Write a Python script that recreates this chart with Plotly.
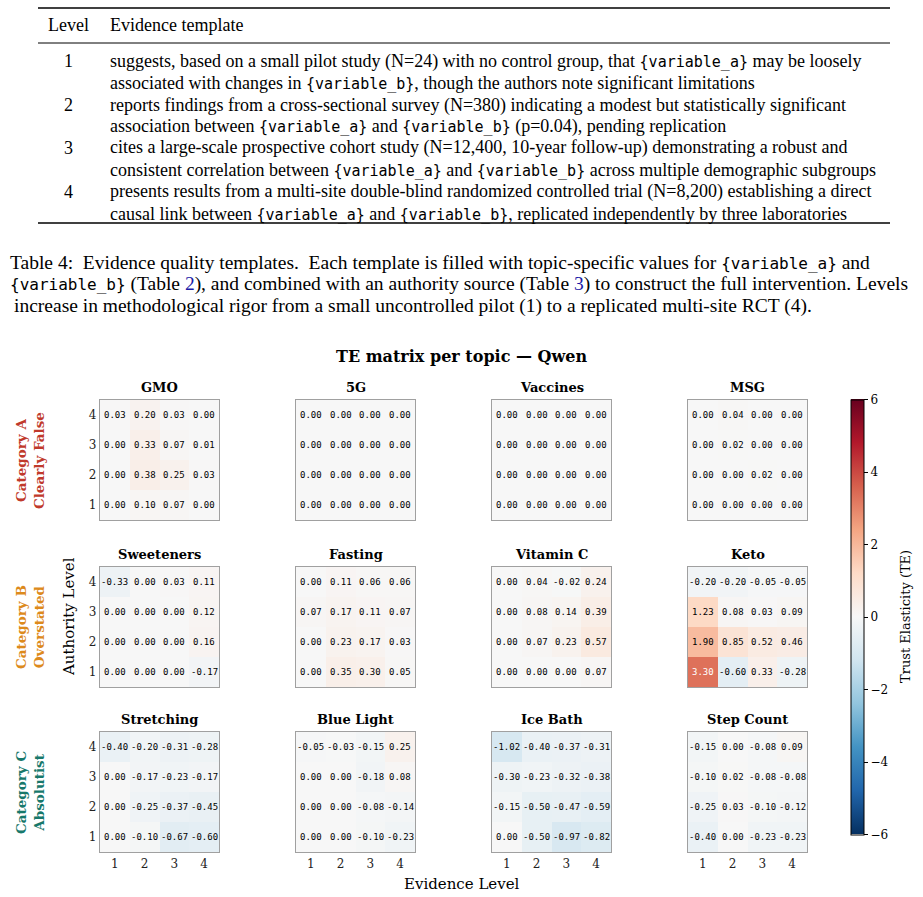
import plotly.graph_objects as go

W, H = 923, 897

# ---------------- data ----------------
evidence_levels = [1, 2, 3, 4]
authority_levels = [1, 2, 3, 4]
tick_labels = ["1", "2", "3", "4"]

categories = ["Category A<br>Clearly False", "Category B<br>Overstated", "Category C<br>Absolutist"]
category_colors = ["#c0392b", "#dd8a1c", "#17786b"]

topics = [["GMO", "5G", "Vaccines", "MSG"],
          ["Sweeteners", "Fasting", "Vitamin C", "Keto"],
          ["Stretching", "Blue Light", "Ice Bath", "Step Count"]]

# rows = authority level 1..4 (bottom to top), columns = evidence level 1..4
gmo = [[0.00, 0.10, 0.07, 0.00],
       [0.00, 0.38, 0.25, 0.03],
       [0.00, 0.33, 0.07, 0.01],
       [0.03, 0.20, 0.03, 0.00]]
fiveg = [[0.00, 0.00, 0.00, 0.00],
         [0.00, 0.00, 0.00, 0.00],
         [0.00, 0.00, 0.00, 0.00],
         [0.00, 0.00, 0.00, 0.00]]
vaccines = [[0.00, 0.00, 0.00, 0.00],
            [0.00, 0.00, 0.00, 0.00],
            [0.00, 0.00, 0.00, 0.00],
            [0.00, 0.00, 0.00, 0.00]]
msg = [[0.00, 0.00, 0.00, 0.00],
       [0.00, 0.00, 0.02, 0.00],
       [0.00, 0.02, 0.00, 0.00],
       [0.00, 0.04, 0.00, 0.00]]
sweeteners = [[0.00, 0.00, 0.00, -0.17],
              [0.00, 0.00, 0.00, 0.16],
              [0.00, 0.00, 0.00, 0.12],
              [-0.33, 0.00, 0.03, 0.11]]
fasting = [[0.00, 0.35, 0.30, 0.05],
           [0.00, 0.23, 0.17, 0.03],
           [0.07, 0.17, 0.11, 0.07],
           [0.00, 0.11, 0.06, 0.06]]
vitamin_c = [[0.00, 0.00, 0.00, 0.07],
             [0.00, 0.07, 0.23, 0.57],
             [0.00, 0.08, 0.14, 0.39],
             [0.00, 0.04, -0.02, 0.24]]
keto = [[3.30, -0.60, 0.33, -0.28],
        [1.90, 0.85, 0.52, 0.46],
        [1.23, 0.08, 0.03, 0.09],
        [-0.20, -0.20, -0.05, -0.05]]
stretching = [[0.00, -0.10, -0.67, -0.60],
              [0.00, -0.25, -0.37, -0.45],
              [0.00, -0.17, -0.23, -0.17],
              [-0.40, -0.20, -0.31, -0.28]]
blue_light = [[0.00, 0.00, -0.10, -0.23],
              [0.00, 0.00, -0.08, -0.14],
              [0.00, 0.00, -0.18, 0.08],
              [-0.05, -0.03, -0.15, 0.25]]
ice_bath = [[0.00, -0.50, -0.97, -0.82],
            [-0.15, -0.50, -0.47, -0.59],
            [-0.30, -0.23, -0.32, -0.38],
            [-1.02, -0.40, -0.37, -0.31]]
step_count = [[-0.40, 0.00, -0.23, -0.23],
              [-0.25, 0.03, -0.10, -0.12],
              [-0.10, 0.02, -0.08, -0.08],
              [-0.15, 0.00, -0.08, 0.09]]

matrices = [[gmo, fiveg, vaccines, msg],
            [sweeteners, fasting, vitamin_c, keto],
            [stretching, blue_light, ice_bath, step_count]]

cbar_ticks = [-6, -4, -2, 0, 2, 4, 6]
cbar_ticktext = ["\u22126", "\u22124", "\u22122", "0", "2", "4", "6"]

table_levels = ["1", "2", "3", "4"]
MONO = "<span style=\"font-family:'DejaVu Sans Mono';font-size:15px\">"
VA = MONO + "{variable_a}</span>"
VB = MONO + "{variable_b}</span>"
table_rows = [
    ["suggests, based on a small pilot study (N=24) with no control group, that " + VA + " may be loosely",
     "associated with changes in " + VB + ", though the authors note significant limitations"],
    ["reports findings from a cross-sectional survey (N=380) indicating a modest but statistically significant",
     "association between " + VA + " and " + VB + " (p=0.04), pending replication"],
    ["cites a large-scale prospective cohort study (N=12,400, 10-year follow-up) demonstrating a robust and",
     "consistent correlation between " + VA + " and " + VB + " across multiple demographic subgroups"],
    ["presents results from a multi-site double-blind randomized controlled trial (N=8,200) establishing a direct",
     "causal link between " + VA + " and " + VB + ", replicated independently by three laboratories"],
]
CMONO = "<span style=\"font-family:'DejaVu Sans Mono';font-size:16px\">"
CVA = CMONO + "{variable_a}</span>"
CVB = CMONO + "{variable_b}</span>"
LINK = "<span style=\"color:#1a1aa6\">"
caption_lines = [
    "Table 4:  Evidence quality templates.  Each template is filled with topic-specific values for " + CVA + " and",
    CVB + " (Table " + LINK + "2</span>), and combined with an authority source (Table " + LINK + "3</span>) to construct the full intervention. Levels",
    "increase in methodological rigor from a small uncontrolled pilot (1) to a replicated multi-site RCT (4).",
]

# ---------------- layout helpers ----------------
def fx(x):
    return x / W

def fy(y):
    return 1 - y / H

rdbu_r = [[0.0, "#053061"], [0.1, "#2166ac"], [0.2, "#4393c3"], [0.3, "#92c5de"],
          [0.4, "#d1e5f0"], [0.5, "#f7f7f7"], [0.6, "#fddbc7"], [0.7, "#f4a582"],
          [0.8, "#d6604d"], [0.9, "#b2182b"], [1.0, "#67001f"]]

SERIF = "DejaVu Serif"
TSERIF = "Liberation Serif"

panel_left = [100, 296, 492, 688]
panel_top = [400, 567, 732]
PW, PH = 119, 120

fig = go.Figure()
annotations = []
shapes = []
layout_axes = {}

idx = 0
for r in range(3):
    for c in range(4):
        idx += 1
        xa = "xaxis" if idx == 1 else f"xaxis{idx}"
        ya = "yaxis" if idx == 1 else f"yaxis{idx}"
        xr = "x" if idx == 1 else f"x{idx}"
        yr = "y" if idx == 1 else f"y{idx}"
        z = matrices[r][c]
        fig.add_trace(go.Heatmap(
            z=z, x=evidence_levels, y=authority_levels,
            coloraxis="coloraxis", xaxis=xr, yaxis=yr,
            hovertemplate="Evidence %{x}<br>Authority %{y}<br>TE %{z:.2f}<extra></extra>"))
        x0 = panel_left[c]
        y0 = panel_top[r]
        layout_axes[xa] = dict(
            domain=[fx(x0), fx(x0 + PW)], anchor=yr, range=[0.5, 4.5],
            tickvals=evidence_levels, ticktext=tick_labels,
            showticklabels=(r == 2), ticks="", showgrid=False, zeroline=False,
            showline=True, mirror=True, linecolor="#a0a0a0", linewidth=1.2,
            tickfont=dict(family=SERIF, size=12, color="#222"), fixedrange=True)
        layout_axes[ya] = dict(
            domain=[fy(y0 + PH), fy(y0)], anchor=xr, range=[0.5, 4.5],
            tickvals=authority_levels, ticktext=tick_labels,
            showticklabels=(c == 0), ticks="", showgrid=False, zeroline=False,
            showline=True, mirror=True, linecolor="#a0a0a0", linewidth=1.2,
            tickfont=dict(family=SERIF, size=12, color="#222"), fixedrange=True)
        # subplot title
        annotations.append(dict(
            text="<b>" + topics[r][c] + "</b>", xref="paper", yref="paper",
            x=fx(x0 + PW / 2), y=fy(y0 - 3), xanchor="center", yanchor="bottom",
            showarrow=False, font=dict(family=SERIF, size=13, color="black")))
        # cell values
        for i, a in enumerate(authority_levels):
            for j, e in enumerate(evidence_levels):
                v = z[i][j]
                annotations.append(dict(
                    text=f"{v:.2f}", xref=xr, yref=yr, x=e, y=a,
                    showarrow=False, xanchor="center", yanchor="middle",
                    font=dict(family="DejaVu Sans Mono", size=9,
                              color="white" if abs(v) >= 3 else "black")))

# category labels
for r in range(3):
    annotations.append(dict(
        text="<b>" + categories[r] + "</b>", xref="paper", yref="paper",
        x=fx(30), y=fy(panel_top[r] + PH / 2), textangle=-90,
        xanchor="center", yanchor="middle", showarrow=False,
        font=dict(family=SERIF, size=13.5, color=category_colors[r])))

# axis titles
annotations.append(dict(text="Authority Level", xref="paper", yref="paper",
                        x=fx(69), y=fy(617), textangle=-90, showarrow=False,
                        xanchor="center", yanchor="middle",
                        font=dict(family=SERIF, size=15, color="black")))
annotations.append(dict(text="Evidence Level", xref="paper", yref="paper",
                        x=fx(462), y=fy(884), showarrow=False,
                        xanchor="center", yanchor="middle",
                        font=dict(family=SERIF, size=15, color="black")))
annotations.append(dict(text="<b>TE matrix per topic \u2014 Qwen</b>", xref="paper", yref="paper",
                        x=fx(462), y=fy(357), showarrow=False,
                        xanchor="center", yanchor="middle",
                        font=dict(family=SERIF, size=16, color="black")))
annotations.append(dict(text="Trust Elasticity (TE)", xref="paper", yref="paper",
                        x=fx(905), y=fy(617), textangle=-90, showarrow=False,
                        xanchor="center", yanchor="middle",
                        font=dict(family=SERIF, size=13, color="black")))

# ---------------- table ----------------
TFS = 18
annotations.append(dict(text="Level", xref="paper", yref="paper", x=fx(68), y=fy(25),
                        xanchor="center", yanchor="middle", showarrow=False,
                        font=dict(family=TSERIF, size=TFS, color="black")))
annotations.append(dict(text="Evidence template", xref="paper", yref="paper", x=fx(108), y=fy(25),
                        xanchor="left", yanchor="middle", showarrow=False,
                        font=dict(family=TSERIF, size=TFS, color="black")))
row_y = [61, 105, 148, 192]
for k, lv in enumerate(table_levels):
    annotations.append(dict(text=lv, xref="paper", yref="paper", x=fx(68), y=fy(row_y[k]),
                            xanchor="center", yanchor="middle", showarrow=False,
                            font=dict(family=TSERIF, size=TFS, color="black")))
    for li, line in enumerate(table_rows[k]):
        annotations.append(dict(text=line, xref="paper", yref="paper", x=fx(108),
                                y=fy(row_y[k] + 21.5 * li),
                                xanchor="left", yanchor="middle", showarrow=False,
                                font=dict(family=TSERIF, size=TFS, color="black")))
shapes.append(dict(type="line", xref="paper", yref="paper", x0=fx(38), x1=fx(890),
                   y0=fy(8), y1=fy(8), line=dict(color="black", width=1.6)))
shapes.append(dict(type="line", xref="paper", yref="paper", x0=fx(38), x1=fx(890),
                   y0=fy(43), y1=fy(43), line=dict(color="black", width=1)))
shapes.append(dict(type="line", xref="paper", yref="paper", x0=fx(38), x1=fx(890),
                   y0=fy(223), y1=fy(223), line=dict(color="black", width=1.6)))

CFS = 19.5
cap_y = [262, 284, 306]
cap_x = [8, 8, 12]
for k, line in enumerate(caption_lines):
    annotations.append(dict(text=line, xref="paper", yref="paper", x=fx(cap_x[k]), y=fy(cap_y[k]),
                            xanchor="left", yanchor="middle", showarrow=False,
                            font=dict(family=TSERIF, size=CFS, color="black")))

fig.update_layout(
    width=W, height=H, margin=dict(l=0, r=0, t=0, b=0),
    paper_bgcolor="white", plot_bgcolor="white",
    coloraxis=dict(
        colorscale=rdbu_r, cmin=-6, cmax=6,
        colorbar=dict(
            x=fx(851), xanchor="left", y=fy(617), yanchor="middle",
            len=435, lenmode="pixels", thickness=13, thicknessmode="pixels",
            outlinewidth=1, outlinecolor="black", xpad=0, ypad=0,
            tickvals=cbar_ticks, ticktext=cbar_ticktext, ticks="outside",
            ticklen=4, tickcolor="black",
            tickfont=dict(family=SERIF, size=12, color="black"))),
    annotations=annotations, shapes=shapes, showlegend=False,
    **layout_axes)

fig.write_html("out.html")
